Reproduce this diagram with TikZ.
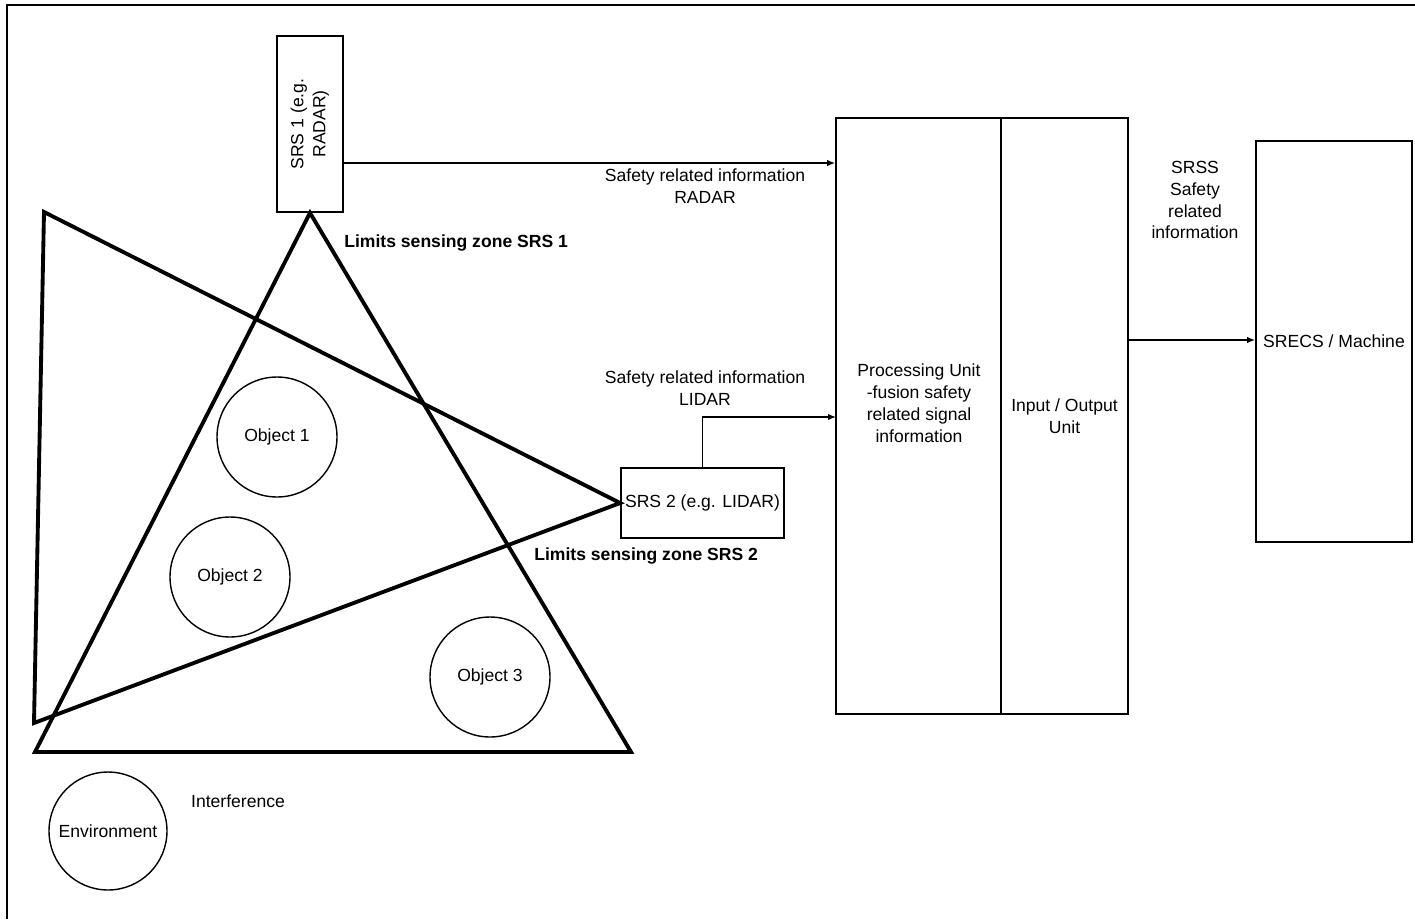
\documentclass[tikz,border=0pt]{standalone}
\usepackage{fontspec}
\setmainfont{Liberation Sans}
\usepackage{tikz}
\usetikzlibrary{arrows.meta}

\begin{document}
\begin{tikzpicture}[x=0.02cm, y=-0.02cm,
	box/.style={rectangle, draw, line width=1pt, align=center, inner sep=2pt,
	            font=\fontsize{10}{12.5}\selectfont},
	obj/.style={circle, draw, line width=0.8pt, inner sep=0pt, minimum size=2.4cm,
	            font=\fontsize{10}{12.5}\selectfont},
	zone/.style={line width=2.2pt, line join=miter},
	arr/.style={-{Latex[length=1.6mm, width=1.3mm]}, line width=0.8pt},
	lbl/.style={font=\fontsize{10}{12.5}\selectfont, align=center, inner sep=0pt},
	zonelbl/.style={font=\bfseries\fontsize{10}{12.5}\selectfont, inner sep=0pt, anchor=west}
	]
	\useasboundingbox (0,0) rectangle (1415,919);
	\draw[line width=1pt] (1415,5) -- (7,5) -- (7,919);

	% sensors and units
	\node[box, minimum width=1.32cm, minimum height=3.52cm] (srs1) at (310,124)
	     {\rotatebox{90}{\begin{tabular}{@{}c@{}}SRS 1 (e.g.\\RADAR)\end{tabular}}};
	\node[box, minimum width=3.26cm, minimum height=1.4cm] (srs2) at (702.5,503) {SRS 2 (e.g. LIDAR)};
	\node[box, minimum width=3.3cm, minimum height=11.92cm] (proc) at (918.5,416) {};
	\node[lbl] (proctext) at (919,403) {Processing Unit\\-fusion safety\\related signal\\information};
	\node[box, minimum width=2.54cm, minimum height=11.92cm] (io) at (1064.5,416) {Input / Output\\Unit};
	\node[box, minimum width=3.12cm, minimum height=8.02cm] (srecs) at (1334,341.5) {SRECS / Machine};

	% objects
	\node[obj] (obj1) at (277,437) {Object 1};
	\node[obj] (obj2) at (230,577) {Object 2};
	\node[obj] (obj3) at (490,677) {Object 3};
	\node[obj, minimum size=2.36cm] (env) at (108,831) {Environment};

	% sensing zones
	\coordinate (z1left) at (35,752);
	\coordinate (z1right) at (631,752);
	\coordinate (z2top) at (44,212);
	\coordinate (z2bottom) at (34,723);
	\draw[zone] (srs1.south) -- (z1right) -- (z1left) -- cycle;
	\draw[zone] (srs2.west) -- (z2top) -- (z2bottom) -- cycle;

	% signals
	\coordinate (radarout) at (343,163);
	\coordinate (lidarin) at (836,417);
	\coordinate (ioout) at (1128,340);
	\draw[arr] (radarout) -- (radarout -| proc.west);
	\draw[arr] (srs2.north) |- (lidarin);
	\draw[arr] (ioout) -- (ioout -| srecs.west);

	\node[lbl] (radarlbl) at (705,186) {Safety related information\\RADAR};
	\node[lbl] (lidarlbl) at (705,388) {Safety related information\\LIDAR};
	\node[lbl] (srsslbl) at (1195,200) {SRSS\\Safety\\related\\information};
	\node[zonelbl] (zone1lbl) at (344,243) {Limits sensing zone SRS 1};
	\node[zonelbl] (zone2lbl) at (534,556) {Limits sensing zone SRS 2};
	\node[lbl] (interf) at (238,801) {Interference};
\end{tikzpicture}
\end{document}
